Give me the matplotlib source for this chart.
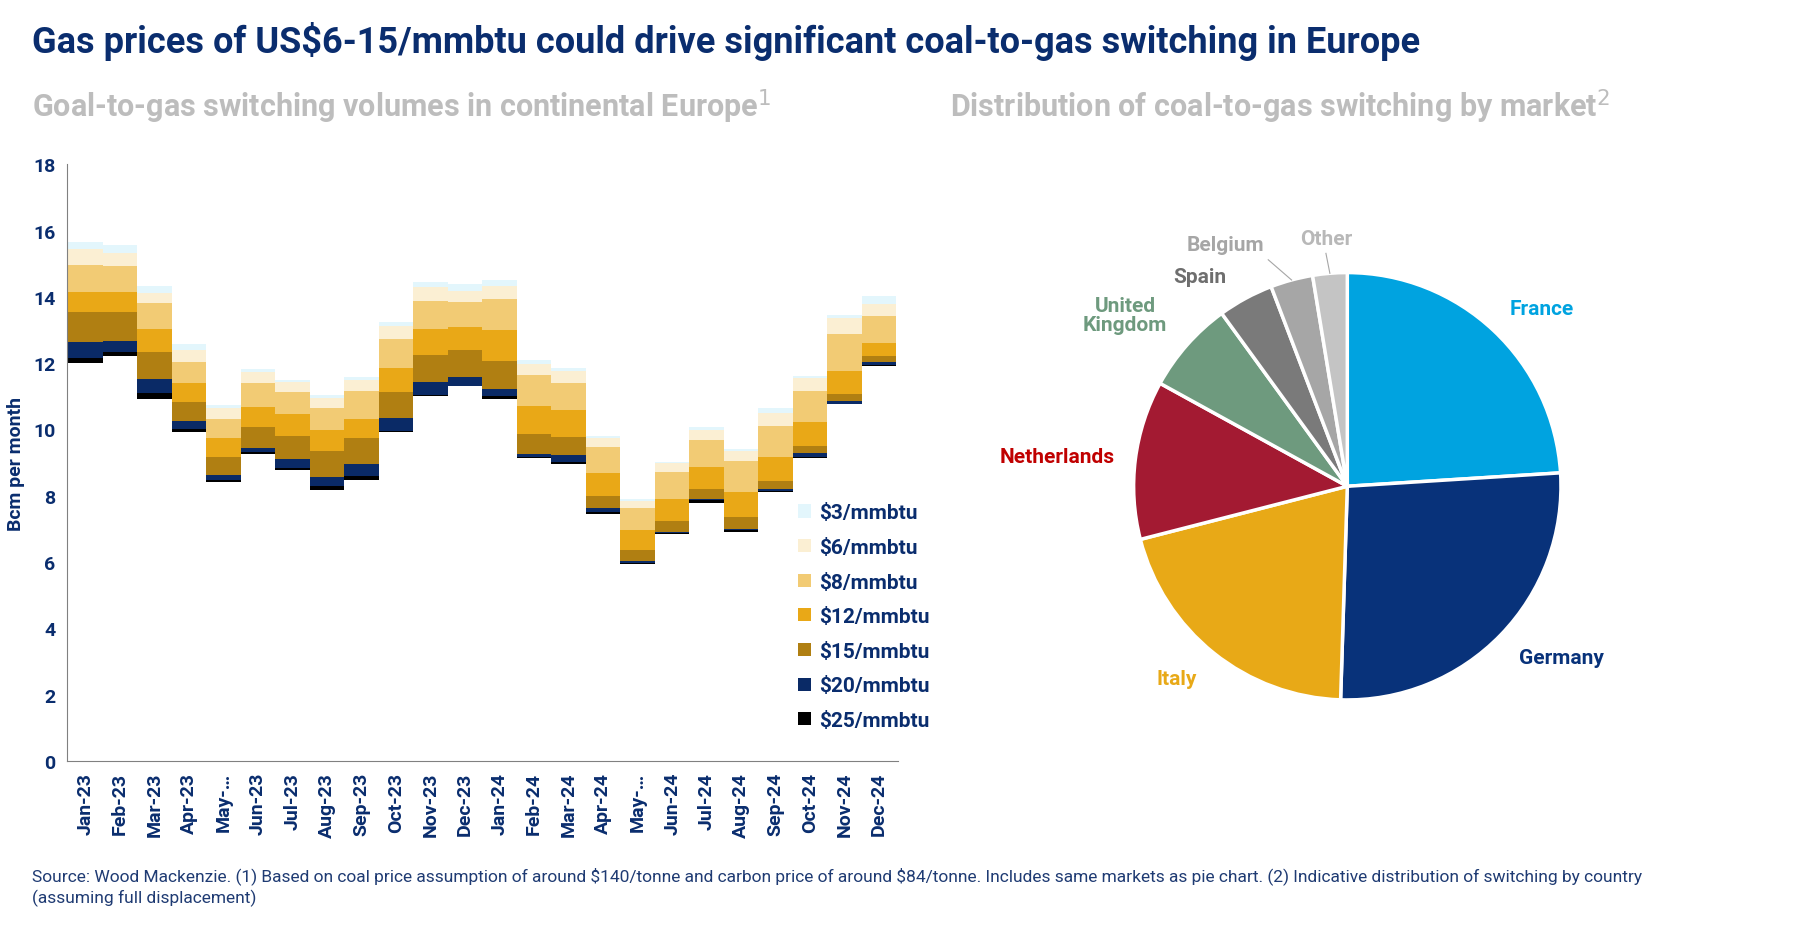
import numpy as np
import matplotlib
matplotlib.use("Agg")
import matplotlib.pyplot as plt

plt.rcParams["font.family"] = ["Roboto", "DejaVu Sans"]

months = ["Jan-23", "Feb-23", "Mar-23", "Apr-23", "May-…", "Jun-23", "Jul-23", "Aug-23",
          "Sep-23", "Oct-23", "Nov-23", "Dec-23", "Jan-24", "Feb-24", "Mar-24", "Apr-24",
          "May-…", "Jun-24", "Jul-24", "Aug-24", "Sep-24", "Oct-24", "Nov-24", "Dec-24"]

# stack boundary levels (Bcm/month): floor, then top of each price tier
floor = [12.00, 12.22, 10.91, 9.92, 8.42, 9.26, 8.77, 8.18, 8.48, 9.93, 11.01, 11.30,
         10.93, 9.13, 8.96, 7.44, 5.93, 6.85, 7.78, 6.89, 8.12, 9.14, 10.76, 11.91]
top_25 = [12.17, 12.33, 11.09, 10.01, 8.47, 9.31, 8.84, 8.28, 8.60, 9.94, 11.04, 11.31,
          11.01, 9.18, 9.01, 7.50, 5.97, 6.88, 7.86, 6.96, 8.14, 9.16, 10.78, 11.93]
top_20 = [12.65, 12.68, 11.53, 10.25, 8.63, 9.44, 9.12, 8.56, 8.96, 10.34, 11.44, 11.59,
          11.21, 9.27, 9.22, 7.62, 6.02, 6.91, 7.90, 7.01, 8.20, 9.29, 10.86, 12.03]
top_15 = [13.55, 13.55, 12.33, 10.84, 9.16, 10.07, 9.80, 9.34, 9.74, 11.14, 12.24, 12.41,
          12.08, 9.87, 9.77, 7.98, 6.35, 7.25, 8.20, 7.37, 8.45, 9.50, 11.07, 12.23]
top_12 = [14.15, 14.14, 13.03, 11.41, 9.73, 10.68, 10.48, 9.99, 10.32, 11.86, 13.04, 13.09,
          12.99, 10.72, 10.60, 8.68, 6.96, 7.90, 8.88, 8.11, 9.18, 10.22, 11.77, 12.62]
top_8 = [14.96, 14.92, 13.82, 12.05, 10.32, 11.39, 11.13, 10.65, 11.16, 12.72, 13.88, 13.85,
         13.93, 11.65, 11.39, 9.46, 7.64, 8.73, 9.69, 9.04, 10.11, 11.16, 12.89, 13.41]
top_6 = [15.44, 15.33, 14.13, 12.41, 10.64, 11.73, 11.42, 10.96, 11.48, 13.11, 14.29, 14.19,
         14.34, 11.96, 11.77, 9.73, 7.84, 8.99, 9.99, 9.34, 10.51, 11.54, 13.36, 13.78]
top_3 = [15.66, 15.56, 14.32, 12.59, 10.74, 11.83, 11.50, 11.03, 11.59, 13.24, 14.45, 14.38,
         14.51, 12.10, 11.86, 9.80, 7.90, 9.02, 10.06, 9.40, 10.64, 11.62, 13.45, 14.04]

tiers = ["$25/mmbtu", "$20/mmbtu", "$15/mmbtu", "$12/mmbtu", "$8/mmbtu", "$6/mmbtu", "$3/mmbtu"]
tier_colors = ["#000000", "#0A2A66", "#B07F12", "#E9A817", "#F2CB74", "#FBEFD3", "#E3F6FC"]

countries = ["France", "Germany", "Italy", "Netherlands", "United\nKingdom", "Spain", "Belgium", "Other"]
shares = [24.0, 26.5, 20.5, 12.0, 7.0, 4.2, 3.2, 2.6]
pie_colors = ["#00A3E0", "#08327A", "#E8A917", "#A31A32", "#6E9A7E", "#7A7A7A", "#A6A6A6", "#C4C4C4"]
label_colors = ["#00A3E0", "#08327A", "#E8A917", "#C00000", "#6E9A7E", "#6E6E6E", "#A6A6A6", "#B8B8B8"]

NAVY = "#0A2D6E"
GREY = "#BDBDBD"

fig = plt.figure(figsize=(18, 9.29), dpi=100)
fig.text(0.018, 0.955, "Gas prices of US\\$6-15/mmbtu could drive significant coal-to-gas switching in Europe",
         fontsize=26, fontweight="bold", color=NAVY, va="center")
fig.text(0.018, 0.885, "Goal-to-gas switching volumes in continental Europe$^1$",
         fontsize=22, fontweight="bold", color=GREY, va="center")
fig.text(0.528, 0.885, "Distribution of coal-to-gas switching by market$^2$",
         fontsize=22, fontweight="bold", color=GREY, va="center")

# ---- stacked floating bars
ax = fig.add_axes([0.037, 0.18, 0.462, 0.642])
levels = [floor, top_25, top_20, top_15, top_12, top_8, top_6, top_3]
x = np.arange(len(months))
handles = []
for i, name in enumerate(tiers):
    lo = np.array(levels[i])
    hi = np.array(levels[i + 1])
    h = ax.bar(x, hi - lo, bottom=lo, width=1.0, color=tier_colors[i], label=name, linewidth=0)
    handles.append(h)
ax.set_ylim(0, 18)
ax.set_yticks(range(0, 19, 2))
ax.set_xlim(-0.55, len(months) - 0.45)
ax.set_xticks(x)
ax.set_xticklabels(months, rotation=90)
for lab in ax.get_xticklabels() + ax.get_yticklabels():
    lab.set_color(NAVY)
    lab.set_fontweight("bold")
    lab.set_fontsize(14)
ax.tick_params(length=0, pad=8)
ax.spines[["top", "right"]].set_visible(False)
ax.spines["left"].set_color("#808080")
ax.spines["bottom"].set_color("#808080")
ax.set_ylabel("Bcm per month", color=NAVY, fontweight="bold", fontsize=14, labelpad=6)
leg = ax.legend(handles[::-1], [t.replace("$", "\\$") for t in tiers[::-1]], loc="lower right",
                bbox_to_anchor=(1.06, 0.02),
                frameon=False, fontsize=15, handlelength=0.6, handleheight=0.6,
                labelspacing=0.75, handletextpad=0.4)
for t in leg.get_texts():
    t.set_color(NAVY)
    t.set_fontweight("bold")

# ---- pie
pax = fig.add_axes([0.60, 0.188, 0.297, 0.575])
wedges, _ = pax.pie(shares, colors=pie_colors, startangle=90, counterclock=False,
                    wedgeprops=dict(edgecolor="white", linewidth=2.5))
pax.set_aspect("equal")
label_pos = [(0.91, 0.83), (1.0, -0.8), (-0.8, -0.9), (-1.36, 0.14), (-1.04, 0.8),
             (-0.69, 0.98), (-0.57, 1.13), (-0.10, 1.16)]
for i, (w, c) in enumerate(zip(wedges, countries)):
    tx, ty = label_pos[i]
    pax.text(tx, ty, c, ha="center", va="center", fontsize=15, fontweight="bold",
             color=label_colors[i], linespacing=1.0)
    if i >= 6:
        ang = np.deg2rad((w.theta1 + w.theta2) / 2)
        px, py = 1.0 * np.cos(ang), 1.0 * np.sin(ang)
        pax.plot([px, tx + (0.2 if i == 6 else 0.0)],
                 [py, ty - 0.07], color="#A6A6A6", linewidth=0.8)

fig.text(0.018, 0.045,
         "Source: Wood Mackenzie. (1) Based on coal price assumption of around \\$140/tonne and carbon price of around \\$84/tonne. "
         "Includes same markets as pie chart. (2) Indicative distribution of switching by country\n(assuming full displacement)",
         fontsize=12.5, color="#1F3B73", va="center", linespacing=1.3)

fig.savefig("out.png", dpi=100)
